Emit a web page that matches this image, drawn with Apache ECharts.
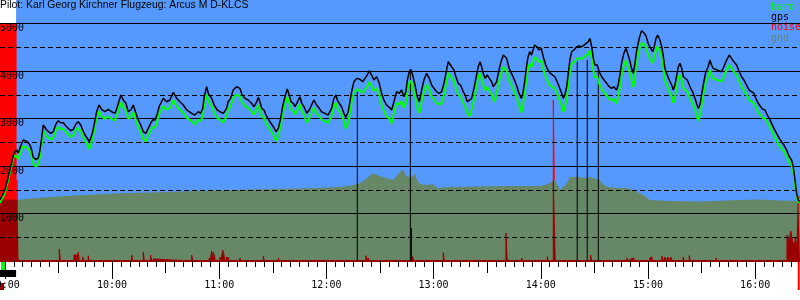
<!DOCTYPE html>
<html><head><meta charset="utf-8">
<script src="https://cdn.jsdelivr.net/npm/echarts@6/dist/echarts.min.js"></script>
<style>html,body{margin:0;padding:0;background:#fff}#c{width:800px;height:300px}</style>
</head><body><div id="c"></div>
<script>
// ---------- data (times in minutes after midnight, altitudes in m) ----------
const chartTitle = 'Pilot: Karl Georg Kirchner Flugzeug: Arcus M D-KLCS';
const legendNames = ['baro', 'gps', 'noise', 'gnd'];
const hourTicks = [540, 600, 660, 720, 780, 840, 900, 960];
const hourLabels = ['09:00', '10:00', '11:00', '12:00', '13:00', '14:00', '15:00', '16:00'];
const altLabels = [1000, 2000, 3000, 4000, 5000];
const timeMin = 537.3, timeMax = 985.1;
const engineOn = 537.3, engineOff = 546.3;
const engineRestart = 984.1;

const fixTime = [
537.3,540.1,541.9,543.8,545.1,546.6,547.5,548.9,550.3,551.3,
552.6,554.1,555.0,555.9,557.4,558.7,559.7,560.6,561.5,562.5,
563.4,564.3,565.7,567.1,568.6,569.9,571.3,572.7,573.7,575.5,
576.9,578.3,579.8,581.1,582.5,583.6,584.9,586.2,587.3,588.1,
589.2,590.5,591.4,592.7,594.2,596.1,597.9,599.8,601.7,603.0,
604.1,605.0,606.3,607.8,609.1,610.5,611.9,613.4,614.7,616.1,
617.5,618.9,620.3,621.6,622.8,624.1,625.3,626.5,628.7,630.6,
632.4,634.3,636.2,638.0,639.9,641.8,644.6,646.4,648.3,649.6,
650.8,651.6,653.0,653.9,654.8,655.8,657.2,658.9,660.4,662.3,
664.1,665.0,666.4,667.8,669.7,671.6,672.5,674.4,676.2,678.1,
679.5,681.0,681.9,682.8,683.8,685.1,686.2,688.4,690.3,691.8,
693.1,694.4,695.5,696.8,698.1,699.2,700.2,701.5,702.4,703.4,
705.2,706.2,707.5,709.0,710.4,711.7,713.0,714.5,716.0,717.3,
719.1,721.0,722.0,722.9,724.2,725.4,726.1,727.2,728.5,729.8,
730.9,732.2,733.2,734.1,735.4,736.9,738.8,740.3,741.6,742.9,
744.0,745.3,746.6,748.1,749.6,750.9,752.2,753.7,755.2,756.5,
757.8,759.3,760.8,762.1,763.4,764.5,765.3,766.4,767.2,768.3,
769.6,770.9,772.0,773.3,774.6,776.1,777.6,778.9,780.2,781.7,
783.2,784.5,785.8,786.9,788.2,789.2,790.1,791.4,792.5,793.8,
795.1,796.6,797.6,798.9,800.0,801.3,802.6,803.7,805.0,806.0,
806.9,807.8,808.8,810.0,811.2,812.5,813.4,814.3,815.3,816.2,
817.5,819.0,819.9,820.9,822.3,823.6,824.9,826.4,827.8,829.2,
830.1,831.0,832.0,832.9,833.8,834.8,835.7,836.6,837.9,839.0,
840.3,841.6,842.8,844.0,845.4,846.5,847.9,849.2,850.3,851.7,
852.6,853.5,854.5,855.4,856.3,857.3,858.6,860.1,861.5,862.9,
864.2,865.3,866.6,867.5,868.5,869.4,870.3,871.6,872.7,874.1,
875.4,876.9,878.3,879.7,880.9,882.4,883.3,884.3,885.2,886.5,
887.7,888.6,889.9,890.8,891.8,892.7,893.7,895.1,896.4,897.7,
898.9,900.1,901.1,902.6,903.3,904.5,905.4,906.7,907.7,908.6,
909.5,910.8,911.9,913.3,914.2,915.1,916.1,917.0,917.9,918.9,
919.8,920.7,922.0,923.1,923.9,925.0,926.3,927.2,928.1,929.1,
930.0,931.3,932.4,933.7,934.7,935.6,936.5,937.5,938.8,939.9,
941.2,942.5,944.0,945.5,946.8,948.1,949.6,951.1,952.4,953.7,
955.2,956.7,958.0,959.3,960.4,961.7,963.1,964.2,965.5,966.8,
967.9,969.2,970.5,972.0,973.5,974.8,976.1,977.6,979.1,980.4,
981.3,982.3,983.2,984.1,985.1];

const gpsAlt = [
1285,1496,1770,2065,2276,2339,2276,2423,2549,2577,
2514,2444,2339,2185,2143,2164,2339,2585,2866,2887,
2760,2724,2691,2724,2887,2956,2914,2914,2866,2796,
2745,2775,2887,2935,2866,2760,2655,2585,2514,2585,
2724,2971,3146,3287,3196,3146,3196,3146,3112,3251,
3392,3498,3392,3323,3146,3182,3287,3112,2971,2866,
2724,2691,2796,2901,2971,2971,3097,3266,3428,3356,
3392,3554,3428,3356,3287,3182,3112,3076,3146,3112,
3217,3462,3673,3533,3567,3428,3287,3182,3146,3112,
3217,3356,3428,3603,3673,3639,3533,3428,3392,3323,
3251,3356,3449,3356,3217,3182,3076,2935,2830,2724,
2796,3007,3251,3462,3624,3498,3356,3323,3251,3323,
3462,3323,3251,3112,3182,3287,3392,3287,3217,3146,
3112,3076,3040,3217,3428,3498,3392,3356,3251,3112,
3028,3146,3356,3567,3778,3849,3828,3778,3849,3919,
4010,3919,3814,3883,3744,3533,3392,3287,3238,3182,
3356,3567,3533,3603,3462,3567,3814,3989,4039,3919,
3708,3462,3356,3603,3814,3955,3849,3708,3639,3567,
3533,3567,3744,3955,4199,4235,4094,4024,3883,3744,
3708,3567,3498,3356,3323,3428,3639,3849,4094,4199,
4094,3955,3849,3919,3849,3778,3673,3639,3778,3955,
4165,4340,4376,4271,4060,3955,3849,3708,3533,3428,
3567,3778,4094,4305,4410,4340,4446,4551,4515,4446,
4482,4271,4130,4024,3955,3919,3883,3778,3673,3533,
3428,3498,3673,3955,4235,4410,4446,4515,4530,4515,
4551,4530,4621,4692,4515,4271,4130,4130,3989,3883,
3814,3744,3673,3639,3673,3603,3708,3919,4165,4376,
4482,4376,4214,4060,3955,4165,4446,4692,4852,4810,
4741,4587,4515,4410,4482,4692,4762,4656,4515,4305,
4060,3919,3814,3708,3603,3708,3919,4094,4165,4060,
3883,3849,3814,3778,3639,3567,3428,3323,3217,3287,
3498,3778,3989,4094,4235,4130,4060,4094,4024,4060,
3989,4094,4235,4340,4271,4199,4130,3989,3883,3814,
3708,3603,3567,3533,3428,3323,3251,3196,3182,3076,
3007,2901,2796,2691,2585,2514,2444,2339,2198,2128,
1987,1707,1426,1285,1243];

const baroAlt = [
1225,1436,1710,2005,2216,2209,2146,2293,2419,2447,
2384,2314,2209,2055,1990,2034,2209,2455,2736,2757,
2630,2594,2561,2594,2757,2826,2784,2784,2736,2666,
2615,2645,2757,2805,2736,2630,2525,2455,2360,2455,
2594,2841,3016,3157,3046,2996,3046,2996,2962,3101,
3242,3348,3242,3173,2996,3032,3137,2962,2821,2716,
2574,2520,2646,2751,2821,2821,2947,3116,3263,3191,
3227,3389,3263,3191,3122,3017,2947,2880,2981,2947,
3052,3297,3508,3368,3402,3263,3122,3017,2981,2920,
3052,3191,3263,3438,3508,3474,3368,3263,3227,3158,
3086,3191,3284,3191,3052,3017,2911,2770,2665,2530,
2631,2842,3086,3297,3459,3333,3191,3158,3086,3158,
3297,3158,3086,2910,3017,3122,3227,3122,3052,2981,
2947,2911,2875,3052,3263,3333,3227,3191,3086,2947,
2793,2911,3121,3332,3543,3614,3593,3543,3614,3684,
3775,3684,3579,3648,3509,3298,3157,3052,3003,2900,
3121,3332,3298,3368,3227,3332,3579,3754,3804,3684,
3473,3227,3121,3368,3579,3720,3614,3473,3404,3332,
3298,3332,3509,3720,3964,4000,3859,3789,3648,3509,
3473,3332,3263,3121,3050,3193,3404,3614,3859,3964,
3839,3700,3594,3664,3594,3523,3418,3350,3523,3700,
3910,4085,4121,4016,3805,3700,3594,3453,3278,3130,
3312,3523,3839,4050,4155,4085,4191,4296,4260,4191,
4227,4016,3875,3769,3700,3664,3628,3523,3418,3278,
3140,3243,3418,3700,3980,4155,4191,4260,4275,4260,
4296,4275,4366,4437,4260,4016,3875,3875,3734,3628,
3559,3489,3418,3384,3418,3320,3453,3664,3910,4121,
4227,4121,3959,3805,3660,3910,4191,4437,4597,4570,
4501,4347,4275,4170,4242,4452,4522,4416,4275,4065,
3820,3679,3574,3468,3330,3468,3679,3854,3925,3820,
3643,3609,3574,3538,3399,3327,3188,3083,2950,3077,
3288,3568,3779,3884,4025,3920,3850,3884,3814,3850,
3779,3884,4025,4130,4061,3989,3920,3779,3673,3604,
3498,3393,3357,3323,3238,3133,3071,3016,3002,2926,
2857,2751,2646,2541,2440,2374,2309,2209,2078,2018,
1887,1627,1366,1245,1223];

const gndTime = [537.3,546.3,558.0,565.3,574.8,583.8,593.3,604.5,621.3,649.2,677.2,705.2,722.0,729.3,734.9,738.8,742.7,746.1,748.3,751.1,753.8,757.2,759.4,761.2,762.9,765.1,767.9,769.6,770.7,772.4,776.3,779.6,781.8,789.2,806.0,822.7,839.6,844.0,846.1,847.9,849.6,850.7,853.0,854.6,856.3,860.2,865.8,867.5,869.2,873.1,874.2,877.0,882.6,888.2,891.6,895.5,898.3,901.1,912.3,929.1,951.5,962.7,973.9,985.1];
const gndAlt = [1285,1285,1327,1348,1370,1391,1405,1426,1443,1475,1507,1528,1549,1565,1601,1637,1742,1848,1812,1776,1742,1707,1791,1882,1917,1776,1776,1848,1707,1622,1601,1622,1538,1559,1570,1580,1580,1622,1671,1707,1580,1496,1580,1643,1764,1776,1742,1776,1742,1707,1637,1565,1538,1538,1496,1426,1370,1285,1264,1254,1285,1296,1275,1264];

// noise level samples (each level holds until the next sample), same scale as altitude
const noise = [
[537.3,5000],[546.3,0],[546.8,1707],[547.4,0],
[570.5,253],[571.1,0],[572.7,42],[573.3,0],[578.7,126],[580.4,0],[581.1,183],[581.7,0],
[583.6,84],[584.2,0],[586.7,112],[587.3,0],[588.6,42],[589.2,0],[592.9,42],[593.5,0],
[595.5,42],[596.1,0],[605.4,42],[606.0,0],[611.0,126],[611.6,0],[617.5,183],[618.1,0],
[621.6,126],[622.2,0],[622.8,42],[623.4,0],[644.6,126],[645.2,0],[647.4,42],[648.0,0],
[654.4,63],[655.0,0],[655.8,211],[656.4,0],[656.7,183],[657.3,105],[657.9,0],
[660.4,84],[661.0,0],[661.9,232],[662.5,170],[663.1,0],[664.2,84],[664.8,63],[665.4,0],
[671.6,63],[672.2,0],[684.7,105],[685.3,0],[693.1,63],[693.7,0],[724.8,42],[725.4,0],
[742.1,112],[742.7,0],[743.4,63],[744.0,0],[750.9,42],[751.5,0],[768.3,91],[768.9,0],
[785.4,175],[786.0,0],[788.8,42],[789.4,0],[808.2,42],[808.8,0],[820.5,590],[821.1,63],[821.7,0],
[825.5,42],[826.1,0],[829.3,63],[829.9,0],[843.6,91],[844.2,0],[847.0,3392],[848.1,0],
[867.9,126],[868.5,0],[874.1,42],[874.7,0],[888.2,63],[888.8,0],[889.9,42],[890.5,0],[891.6,63],[892.2,0],
[901.1,63],[901.7,84],[902.3,0],[907.8,105],[908.4,0],[909.5,84],[910.1,0],[911.2,84],[911.8,0],
[912.9,84],[913.5,0],[919.7,84],[920.3,0],[923.1,112],[923.7,0],[938.0,63],[938.6,0],
[977.8,550],[978.9,420],[980.0,630],[981.1,380],[982.3,500],[983.4,300],[984.1,1350],[985.1,1350]];

// event markers drawn as vertical lines (time, top altitude)
const markerTime = [737.3, 767.0, 767.6, 860.4, 866.0, 872.2];
const markerAlt  = [3567, 3989, 695, 4199, 4235, 4024];

// ---------- build ----------
const MONO = 'DejaVu Sans Mono';
const COL = { blue: '#5599ff', baro: '#00ff00', gps: '#000000', noise: '#ff0000', noiseDark: '#990000', gnd: '#668866' };

function gndAt(t) {
  if (t <= gndTime[0]) return gndAlt[0];
  for (let i = 1; i < gndTime.length; i++) {
    if (t <= gndTime[i]) {
      const f = (t - gndTime[i - 1]) / (gndTime[i] - gndTime[i - 1]);
      return gndAlt[i - 1] + f * (gndAlt[i] - gndAlt[i - 1]);
    }
  }
  return gndAlt[gndAlt.length - 1];
}
const halfHourTicks = [], fiveMinTicks = [];
for (let m = 540; m <= timeMax; m += 5) {
  fiveMinTicks.push(m);
  if (m % 30 === 0 && m % 60 !== 0) halfHourTicks.push(m);
}
const gpsData = fixTime.map((t, i) => [t, gpsAlt[i]]);
const baroData = fixTime.map((t, i) => [t, baroAlt[i]]);
const gndData = gndTime.map((t, i) => [t, gndAlt[i]]);
const noiseDark = noise.map(([t, v]) => [t, Math.min(v, gndAt(t))]);
const markerData = markerTime.map((t, i) => [t, markerAlt[i]]);

function tickAxis(values, len, withLabel) {
  return {
    type: 'value', min: timeMin, max: timeMax, position: 'bottom', offset: 0, z: 5,
    axisLine: { show: withLabel, onZero: false, lineStyle: { color: COL.noiseDark, width: 2 } },
    axisTick: { show: true, customValues: values, length: len, lineStyle: { color: '#000', width: 1 } },
    axisLabel: withLabel ? {
      show: true, customValues: values, margin: 19, color: '#000', fontFamily: MONO, fontSize: 10,
      formatter: v => hourLabels[hourTicks.indexOf(v)]
    } : { show: false },
    splitLine: { show: false }
  };
}

const chart = echarts.init(document.getElementById('c'), null, { renderer: 'canvas' });
chart.setOption({
  animation: false,
  backgroundColor: '#ffffff',
  title: {
    text: chartTitle, left: 0, top: 0, padding: 0,
    textStyle: { fontFamily: 'Liberation Sans', fontSize: 10.4, fontWeight: 'normal', color: '#000' }
  },
  legend: {
    orient: 'vertical', left: 765, top: 2, padding: 0, itemGap: 0, itemWidth: 0, itemHeight: 0,
    selectedMode: false,
    textStyle: { fontFamily: MONO, fontSize: 10, lineHeight: 10.3 },
    data: [
      { name: 'baro', textStyle: { color: COL.baro } },
      { name: 'gps', textStyle: { color: COL.gps } },
      { name: 'noise', textStyle: { color: COL.noise } },
      { name: 'gnd', textStyle: { color: COL.gnd } }
    ]
  },
  grid: { left: 0, right: 0, top: 0, bottom: 39, containLabel: false, outerBoundsMode: 'none' },
  xAxis: [
    tickAxis(hourTicks, 18, true),
    tickAxis(halfHourTicks, 12, false),
    tickAxis(fiveMinTicks, 6, false)
  ],
  yAxis: [
    {
      type: 'value', min: 0, max: 5500, interval: 1000, z: 5,
      axisLine: { show: false }, axisTick: { show: false },
      splitLine: { show: true, showMaxLine: false, lineStyle: { color: '#000', width: 1 } },
      axisLabel: {
        inside: true, margin: 0, verticalAlign: 'top', showMaxLabel: false, showMinLabel: false,
        color: '#000', fontFamily: MONO, fontSize: 10,
        formatter: v => (altLabels.indexOf(v) >= 0 ? String(v) : '')
      }
    },
    {
      type: 'value', min: 0, max: 5500, interval: 500, z: 5, position: 'left',
      axisLine: { show: false }, axisTick: { show: false }, axisLabel: { show: false },
      splitLine: { show: true, showMaxLine: false, showMinLine: false, lineStyle: { color: '#000', width: 1, type: [5, 3] } }
    }
  ],
  series: [
    {
      name: 'noise', type: 'line', step: 'end', data: noise, z: 2, symbol: 'none',
      lineStyle: { width: 1, color: COL.noise }, itemStyle: { color: COL.noise },
      areaStyle: { color: COL.noise, opacity: 1 }
    },
    {
      name: 'gnd', type: 'line', data: gndData, z: 3, symbol: 'none',
      lineStyle: { width: 0, color: COL.gnd }, itemStyle: { color: COL.gnd },
      areaStyle: { color: COL.gnd, opacity: 1 },
      markArea: {
        silent: true, itemStyle: { color: COL.blue, opacity: 1 },
        data: [[{ xAxis: engineOff, yAxis: 0 }, { xAxis: timeMax, yAxis: 5500 }]]
      }
    },
    {
      name: 'noiseGnd', type: 'line', step: 'end', data: noiseDark, z: 4, symbol: 'none',
      lineStyle: { width: 1, color: COL.noiseDark },
      areaStyle: { color: COL.noiseDark, opacity: 1 }
    },
    {
      name: 'marks', type: 'bar', data: markerData, z: 6, barWidth: 1,
      itemStyle: { color: '#000' }
    },
    {
      name: 'baro', type: 'line', data: baroData, z: 7, symbol: 'none',
      lineStyle: { width: 2, color: COL.baro }, itemStyle: { color: COL.baro }
    },
    {
      name: 'gps', type: 'line', data: gpsData, z: 8, symbol: 'none',
      lineStyle: { width: 1.5, color: COL.gps }, itemStyle: { color: COL.gps }
    }
  ]
});

// engine-run indicator strip below the time axis, placed with the x scale
const px = t => chart.convertToPixel({ xAxisIndex: 0 }, t);
const xOn = px(engineOn), xOff = px(engineOff), xRe = px(engineRestart);
chart.setOption({
  graphic: [
    { type: 'rect', shape: { x: xOn + 1, y: 262, width: 4, height: 8 }, style: { fill: '#00ff00' }, silent: true },
    { type: 'rect', shape: { x: xOn, y: 270, width: xOff - xOn, height: 7 }, style: { fill: '#000000' }, silent: true },
    { type: 'rect', shape: { x: xOn, y: 283, width: 4, height: 7 }, style: { fill: COL.noiseDark }, silent: true },
    { type: 'rect', shape: { x: xRe - 0.5, y: 262, width: 2, height: 28 }, style: { fill: COL.noise }, silent: true }
  ]
});
</script></body></html>
